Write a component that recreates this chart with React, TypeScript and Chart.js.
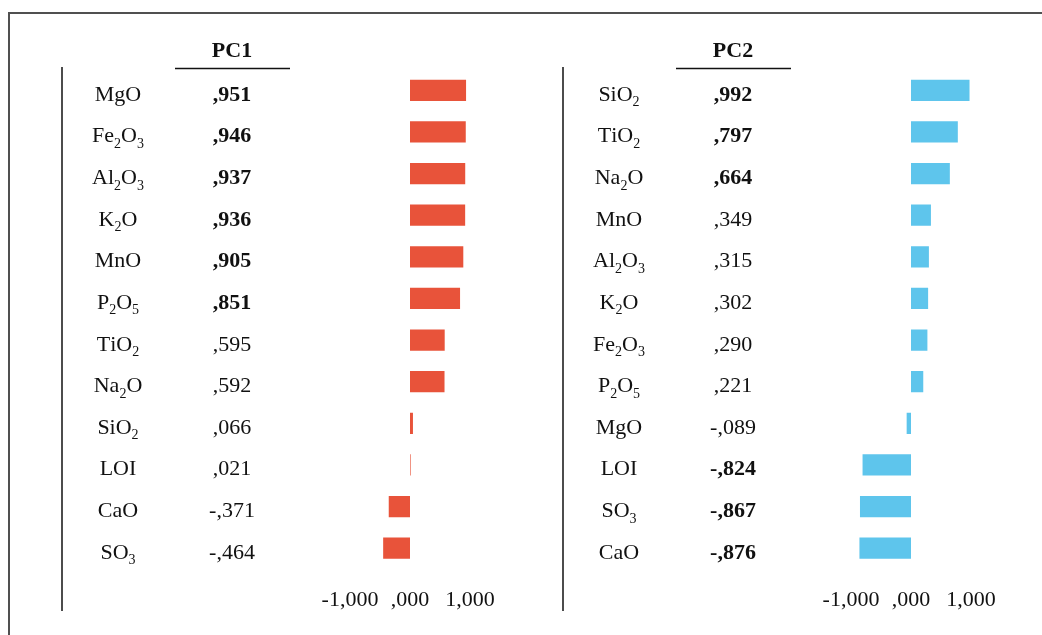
import React, { useEffect, useRef } from "react";
import { Chart, registerables } from "chart.js";

Chart.register(...registerables);

// Component loadings for the two principal components
const pc1Labels = ["MgO", "Fe2O3", "Al2O3", "K2O", "MnO", "P2O5", "TiO2", "Na2O", "SiO2", "LOI", "CaO", "SO3"];
const pc1Values = [0.951, 0.946, 0.937, 0.936, 0.905, 0.851, 0.595, 0.592, 0.066, 0.021, -0.371, -0.464];

const pc2Labels = ["SiO2", "TiO2", "Na2O", "MnO", "Al2O3", "K2O", "Fe2O3", "P2O5", "MgO", "LOI", "SO3", "CaO"];
const pc2Values = [0.992, 0.797, 0.664, 0.349, 0.315, 0.302, 0.29, 0.221, -0.089, -0.824, -0.867, -0.876];

const axisTicks = [-1, 0, 1];

const FONT = "'Liberation Serif', 'Times New Roman', serif";
const TEXT = "#111111";
const STRONG = 0.6; // loadings at or above this magnitude are set in bold

const W = 520;
const H = 635;

// Decimal comma, leading zero dropped: 0.951 -> ",951", -1 -> "-1,000"
function fmt(v: number): string {
  let s = Math.abs(v).toFixed(3).replace(".", ",");
  if (s.startsWith("0,")) s = s.slice(1);
  return (v < 0 ? "-" : "") + s;
}

// Draws a chemical formula with its digits as subscripts, centred on cx
function drawFormula(ctx: CanvasRenderingContext2D, text: string, cx: number, y: number) {
  const main = `22px ${FONT}`;
  const sub = `14px ${FONT}`;
  const parts = text.split("").map((ch) => ({ ch, isSub: /[0-9]/.test(ch) }));
  let total = 0;
  const widths = parts.map((p) => {
    ctx.font = p.isSub ? sub : main;
    const w = ctx.measureText(p.ch).width;
    total += w;
    return w;
  });
  let x = cx - total / 2;
  ctx.textAlign = "left";
  ctx.textBaseline = "alphabetic";
  parts.forEach((p, i) => {
    ctx.font = p.isSub ? sub : main;
    ctx.fillText(p.ch, x, p.isSub ? y + 5.5 : y);
    x += widths[i];
  });
}

function makeTablePlugin(title: string, labels: string[], values: number[]) {
  return {
    id: "loadingTable",
    afterDraw(chart: any) {
      const ctx: CanvasRenderingContext2D = chart.ctx;
      const yScale = chart.scales.y;
      ctx.save();
      ctx.fillStyle = TEXT;
      ctx.strokeStyle = TEXT;

      // column header and its rule
      ctx.font = `bold 22px ${FONT}`;
      ctx.textAlign = "center";
      ctx.textBaseline = "alphabetic";
      ctx.fillText(title, 232, 57);
      ctx.lineWidth = 1.5;
      ctx.beginPath();
      ctx.moveTo(175, 68.5);
      ctx.lineTo(290, 68.5);
      ctx.stroke();

      // left rule of the table
      ctx.beginPath();
      ctx.moveTo(62, 67);
      ctx.lineTo(62, 611);
      ctx.stroke();

      labels.forEach((lab, i) => {
        const yc = yScale.getPixelForValue(i);
        const base = yc + 10.5;
        drawFormula(ctx, lab, 118, base);
        const v = values[i];
        ctx.font = `${Math.abs(v) >= STRONG ? "bold " : ""}22px ${FONT}`;
        ctx.textAlign = "center";
        ctx.textBaseline = "alphabetic";
        ctx.fillText(fmt(v), 232, base);
      });
      ctx.restore();
    },
  };
}

function LoadingPanel(props: { title: string; labels: string[]; values: number[]; color: string; left: number }) {
  const ref = useRef<HTMLCanvasElement | null>(null);
  useEffect(() => {
    if (!ref.current) return;
    const chart = new Chart(ref.current, {
      type: "bar",
      data: {
        labels: props.labels,
        datasets: [
          {
            data: props.values,
            backgroundColor: props.color,
            borderColor: "rgba(255,255,255,0.35)",
            borderWidth: 1,
            barPercentage: 0.56,
            categoryPercentage: 1,
          },
        ],
      },
      options: {
        indexAxis: "y",
        responsive: false,
        animation: false,
        layout: { padding: { left: 350, right: 50, top: 69.5, bottom: 0 } },
        scales: {
          x: {
            min: -1,
            max: 1,
            afterBuildTicks: (scale: any) => {
              scale.ticks = axisTicks.map((v) => ({ value: v }));
            },
            afterFit: (scale: any) => {
              scale.height = 66;
            },
            ticks: {
              autoSkip: false,
              maxRotation: 0,
              padding: 18,
              color: TEXT,
              font: { family: FONT, size: 22 },
              callback: (v: any) => fmt(Number(v)),
            },
            grid: { display: false, drawTicks: false },
            border: { display: false },
          },
          y: { display: false },
        },
        plugins: { legend: { display: false }, tooltip: { enabled: false } },
      },
      plugins: [makeTablePlugin(props.title, props.labels, props.values)],
    } as any);
    return () => chart.destroy();
  }, []);
  return (
    <canvas
      ref={ref}
      width={W}
      height={H}
      style={{ position: "absolute", left: props.left, top: 0, width: W, height: H }}
    />
  );
}

export default function App() {
  return (
    <div
      style={{
        position: "absolute",
        left: 0,
        top: 0,
        width: 1042,
        height: 635,
        overflow: "hidden",
        background: "#ffffff",
      }}
    >
      <div
        style={{
          position: "absolute",
          left: 8,
          top: 12,
          width: 1100,
          height: 700,
          borderTop: "2px solid #505050",
          borderLeft: "2px solid #505050",
        }}
      />
      <LoadingPanel title="PC1" labels={pc1Labels} values={pc1Values} color="#E8533A" left={0} />
      <LoadingPanel title="PC2" labels={pc2Labels} values={pc2Values} color="#5EC5EC" left={501} />
    </div>
  );
}
